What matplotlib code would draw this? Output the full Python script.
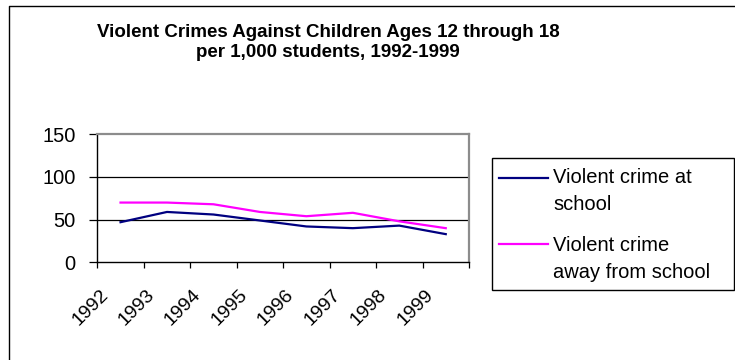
import matplotlib
matplotlib.use('Agg')
import matplotlib.pyplot as plt
import matplotlib.transforms as mtransforms
from matplotlib.lines import Line2D
from matplotlib.patches import Rectangle
import numpy as np

# ---- data -------------------------------------------------------------
years = ['1992', '1993', '1994', '1995', '1996', '1997', '1998', '1999']
at_school = [47, 59, 56, 49, 42, 40, 43, 33]
away_from_school = [70, 70, 68, 59, 54, 58, 48, 40]
series_labels = ['Violent crime at\nschool', 'Violent crime\naway from school']
series_colors = ['#000080', '#FF00FF']
y_ticks = [0, 50, 100, 150]
title = 'Violent Crimes Against Children Ages 12 through 18\nper 1,000 students, 1992-1999'

# ---- figure setup -----------------------------------------------------
W, H, DPI = 735, 360, 100
plt.rcParams['font.family'] = ['Liberation Sans', 'DejaVu Sans']

fig = plt.figure(figsize=(W / DPI, H / DPI), dpi=DPI)
fig.patch.set_facecolor('white')


def fx(px):
    return px / W


def fy(py):
    return 1 - py / H


# chart-area frame (left and top edges; the rest runs off the canvas)
fig.add_artist(Line2D([fx(9), fx(9), fx(W + 5)], [fy(H + 5), fy(6), fy(6)],
                      transform=fig.transFigure, color='black', lw=1.0))

# title (anchored on the baseline of its last line)
fig.text(fx(328), fy(57), title, ha='center', va='baseline',
         fontsize=13.5, fontweight='bold', linespacing=1.2)

# ---- plot area --------------------------------------------------------
left, right, top, bottom = 97.3, 469.0, 134.3, 262.3
ax = fig.add_axes([fx(left), fy(bottom), (right - left) / W, (bottom - top) / H])
ax.set_facecolor('white')

x = np.arange(len(years)) + 0.5
series = [at_school, away_from_school]
for vals, color in zip(series, series_colors):
    ax.plot(x, vals, color=color, lw=1.6, solid_joinstyle='round')

ax.set_xlim(0, len(years))
ax.set_ylim(y_ticks[0], y_ticks[-1])

# y axis
ax.set_yticks(y_ticks)
ax.tick_params(axis='y', which='major', direction='out', length=6, width=0.9,
               color='black', pad=9.5, labelsize=14.5)
ax.yaxis.grid(True, color='black', lw=0.9)
ax.set_axisbelow(True)
grid = ax.get_ygridlines()
grid[0].set_visible(False)
grid[-1].set_visible(False)

# x axis: ticks between categories, labels at category centres
ax.set_xticks(np.arange(len(years) + 1))
ax.set_xticklabels([''] * (len(years) + 1))
ax.set_xticks(x, minor=True)
ax.set_xticklabels(years, minor=True)
ax.tick_params(axis='x', which='major', direction='out', length=4, width=0.9,
               color='black')
ax.tick_params(axis='x', which='minor', length=0, pad=17, labelsize=14)
shift = mtransforms.ScaledTranslation(-9 / DPI, 0, fig.dpi_scale_trans)
for lbl in ax.get_xticklabels(minor=True):
    lbl.set_rotation(45)
    lbl.set_ha('right')
    lbl.set_va('top')
    lbl.set_transform(lbl.get_transform() + shift)

# spines
for side in ('left', 'bottom'):
    ax.spines[side].set_color('black')
    ax.spines[side].set_linewidth(1.0)
for side in ('top', 'right'):
    ax.spines[side].set_color('#8c8c8c')
    ax.spines[side].set_linewidth(1.6)

# ---- legend -----------------------------------------------------------
fig.add_artist(Rectangle((fx(491.7), fy(290)), (734.3 - 491.7) / W, (290 - 158.3) / H,
                         transform=fig.transFigure, fill=False,
                         edgecolor='black', lw=1.0))
entry_line_y = [178.3, 244.3]
entry_last_baseline = [210.5, 278.0]
for label, color, ly, ty in zip(series_labels, series_colors, entry_line_y, entry_last_baseline):
    fig.add_artist(Line2D([fx(499), fx(548)], [fy(ly), fy(ly)],
                          transform=fig.transFigure, color=color, lw=1.6))
    fig.text(fx(553), fy(ty), label, ha='left', va='baseline',
             fontsize=14.5, linespacing=1.55)

fig.savefig('out.png', dpi=DPI, facecolor='white')
